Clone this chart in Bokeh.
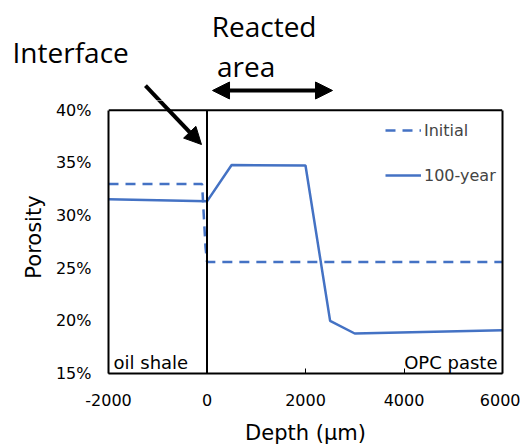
from bokeh.plotting import figure
from bokeh.layouts import column
from bokeh.models import (Span, Label, Arrow, NormalHead, FixedTicker,
                          PrintfTickFormatter, Legend, LegendItem, LinearAxis)
from bokeh.embed import file_html
from bokeh.resources import INLINE

# ---------------- Data ----------------
depth_initial = [-2000, -100, -30, 0, 6000]
por_initial = [33.0, 33.0, 27.0, 25.6, 25.6]
depth_100 = [-2000, 0, 500, 2000, 2500, 3000, 6000]
por_100 = [31.55, 31.35, 34.8, 34.75, 20.0, 18.8, 19.1]
x_ticks = [-2000, 0, 2000, 4000, 6000]
y_ticks = [15, 20, 25, 30, 35, 40]
interface_depth = 0

BLUE = "#4472C4"
TICK_FONT = "DejaVu Sans"
ANN_FONT = "Open Sans"
ANN_SIZE = 28

X0, X1 = x_ticks[0], x_ticks[-1]
Y0, Y1 = y_ticks[0], y_ticks[-1]

# geometry (pixels)
W, H = 520, 447
FRAME_L, FRAME_R = 108, 502
TOP_H = 100            # height of the annotation strip above the chart
TOP_PANEL = 40         # top border of the annotation strip
FRAME_TOP_PAGE = 110   # where the 40 % line lies
FRAME_BOTTOM_PAGE = 379
px_per_x = (FRAME_R - FRAME_L) / (X1 - X0)
px_per_y = (FRAME_BOTTOM_PAGE - FRAME_TOP_PAGE) / (Y1 - Y0)

main_ytop = Y1 + (FRAME_TOP_PAGE - TOP_H) / px_per_y
main_h = H - TOP_H
Y_SHIFT = 11.5 / px_per_y   # baseline correction for the annotation font

# ---------------- main chart ----------------
p = figure(width=W, height=main_h, output_backend="svg", toolbar_location=None,
           x_range=(X0, X1), y_range=(Y0, main_ytop),
           min_border_left=FRAME_L, min_border_right=W - FRAME_R,
           min_border_top=0, min_border_bottom=H - FRAME_BOTTOM_PAGE)
p.xgrid.visible = False
p.ygrid.visible = False
p.outline_line_color = None
p.background_fill_color = "white"
p.border_fill_color = "white"

for ax in (p.xaxis, p.yaxis):
    ax.axis_line_color = "black"
    ax.axis_line_width = 2
    ax.minor_tick_line_color = None
    ax.major_label_text_font = TICK_FONT
    ax.major_label_text_font_size = "16px"
    ax.major_label_text_color = "black"
    ax.axis_label_text_font = TICK_FONT
    ax.axis_label_text_font_size = "21px"
    ax.axis_label_text_font_style = "normal"
    ax.axis_label_text_color = "black"

p.xaxis.ticker = FixedTicker(ticks=x_ticks)
p.xaxis.major_label_overrides = {t: str(t) for t in x_ticks}
p.xaxis.major_tick_in = 5
p.xaxis.major_tick_out = 0
p.xaxis.major_tick_line_color = "black"
p.xaxis.major_label_standoff = 20
p.xaxis.axis_label = "Depth (µm)"
p.xaxis.axis_label_standoff = 12

p.yaxis.ticker = FixedTicker(ticks=y_ticks)
p.yaxis.bounds = (Y0, Y1)
p.yaxis.formatter = PrintfTickFormatter(format="%d%%")
p.yaxis.major_tick_in = 0
p.yaxis.major_tick_out = 0
p.yaxis.major_label_standoff = 17
p.yaxis.axis_label = "Porosity"
p.yaxis.axis_label_standoff = 7

right_axis = LinearAxis(ticker=FixedTicker(ticks=[]), bounds=(Y0, Y1),
                        axis_line_color="black", axis_line_width=2,
                        major_tick_line_color=None, minor_tick_line_color=None)
p.add_layout(right_axis, "right")
p.add_layout(Span(location=Y1, dimension="width", line_color="black", line_width=2))

r_init = p.line(depth_initial, por_initial, line_color=BLUE, line_width=2.5, line_dash="10 7")
r_100 = p.line(depth_100, por_100, line_color=BLUE, line_width=2.5)

p.segment(x0=[interface_depth], y0=[Y0], x1=[interface_depth], y1=[Y1],
          line_color="black", line_width=2)

legend = Legend(items=[LegendItem(label="Initial", renderers=[r_init]),
                       LegendItem(label="100-year", renderers=[r_100])],
                location=(277, 188), glyph_width=36, glyph_height=20,
                label_height=20, spacing=25, padding=0, margin=0,
                label_standoff=3, border_line_color=None,
                background_fill_alpha=0, label_text_font=TICK_FONT,
                label_text_font_size="16px")
p.add_layout(legend)

p.add_layout(Label(x=-1898, y=16.0, text="oil shale", text_font=TICK_FONT,
                   text_font_size="18px", text_color="black",
                   text_baseline="alphabetic"))
p.add_layout(Label(x=5898, y=16.0, text="OPC paste", text_font=TICK_FONT,
                   text_font_size="18px", text_color="black", text_align="right",
                   text_baseline="alphabetic"))

# ---------------- annotation strip above ----------------
top_ytop = main_ytop + (TOP_H - TOP_PANEL) / px_per_y
t = figure(width=W, height=TOP_H, output_backend="svg", toolbar_location=None,
           x_range=(X0, X1), y_range=(main_ytop, top_ytop),
           min_border_left=0, min_border_right=0, min_border_top=TOP_PANEL,
           min_border_bottom=0, x_axis_type=None, y_axis_type=None)
t.xgrid.visible = False
t.ygrid.visible = False
t.outline_line_color = None
t.background_fill_color = "white"
t.border_fill_color = "white"


def ann(txt, x, y):
    return Label(x=x, y=y + Y_SHIFT, text=txt, text_font=ANN_FONT,
                 text_font_size=f"{ANN_SIZE}px", text_color="black",
                 text_baseline="alphabetic")


t.add_layout(ann("Interface", -3949, 44.37), "above")
t.add_layout(ann("Reacted", 95, 46.78), "left")
t.add_layout(ann("area", 203, 43.07))

t.add_layout(Arrow(x_start=112, y_start=41.86, x_end=2548, y_end=41.86,
                   line_width=4, line_color="black",
                   start=NormalHead(size=17, fill_color="black", line_color="black"),
                   end=NormalHead(size=17, fill_color="black", line_color="black")))

# interface arrow, drawn in both panels so that it continues across them
for fig in (t, p):
    fig.add_layout(Arrow(x_start=-1249, y_start=42.32, x_end=-112, y_end=36.75,
                         line_width=4, line_color="black",
                         end=NormalHead(size=17, fill_color="black", line_color="black")))

layout = column(t, p, spacing=0)
open("out.html", "w").write(file_html(layout, INLINE))
